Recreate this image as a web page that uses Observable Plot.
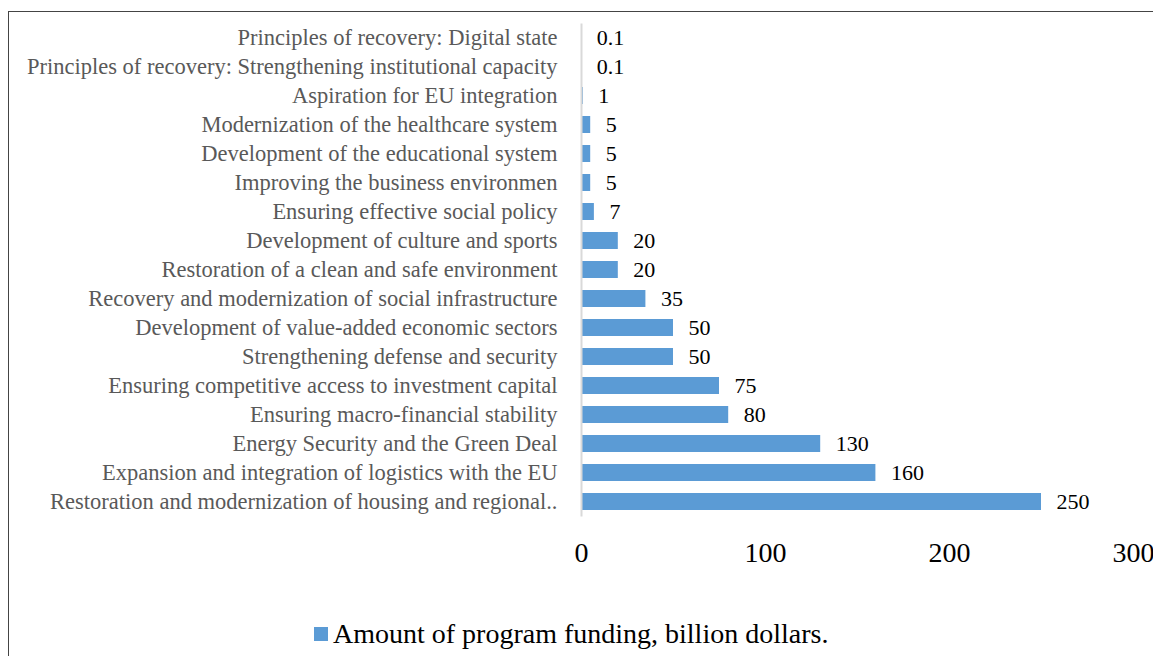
<!DOCTYPE html>
<html>
<head>
<meta charset="utf-8">
<script src="https://cdn.jsdelivr.net/npm/d3@7"></script>
<script src="https://cdn.jsdelivr.net/npm/@observablehq/plot@0.6"></script>
<style>
  html, body { margin: 0; padding: 0; background: #fff; overflow: hidden; width: 1153px; height: 656px; }
  #frame { position: absolute; left: 8px; top: 11px; width: 1200px; height: 700px; border: 1.5px solid #444; box-sizing: border-box; }
  #chart { position: absolute; left: 0; top: 0; }
  #legend { position: absolute; left: 314px; top: 617px; font-family: "Liberation Serif", "Times New Roman", serif; font-size: 28px; color: #000; display: flex; align-items: center; white-space: nowrap; line-height: 34px; }
  #legend .sw { width: 14px; height: 14px; background: #5b9bd5; margin-right: 5px; }
</style>
</head>
<body>
<div id="frame"></div>
<div id="chart"></div>
<div id="legend"><span class="sw"></span><span>Amount of program funding, billion dollars.</span></div>
<script>
const categories = [
  "Principles of recovery: Digital state",
  "Principles of recovery: Strengthening institutional capacity",
  "Aspiration for EU integration",
  "Modernization of the healthcare system",
  "Development of the educational system",
  "Improving the business environmen",
  "Ensuring effective social policy",
  "Development of culture and sports",
  "Restoration of a clean and safe environment",
  "Recovery and modernization of social infrastructure",
  "Development of value-added economic sectors",
  "Strengthening defense and security",
  "Ensuring competitive access to investment capital",
  "Ensuring macro-financial stability",
  "Energy Security and the Green Deal",
  "Expansion and integration of logistics with the EU",
  "Restoration and modernization of housing and regional.."
];
const values = [0.1, 0.1, 1, 5, 5, 5, 7, 20, 20, 35, 50, 50, 75, 80, 130, 160, 250];
const valueLabels = ["0.1", "0.1", "1", "5", "5", "5", "7", "20", "20", "35", "50", "50", "75", "80", "130", "160", "250"];
const xTicks = [0, 100, 200, 300];

const data = categories.map((c, i) => ({category: c, value: values[i], label: valueLabels[i]}));
const font = '"Liberation Serif", "Times New Roman", serif';

const chart = Plot.plot({
  width: 1153,
  height: 600,
  marginLeft: 581,
  marginRight: 20,
  marginTop: 23.5,
  marginBottom: 83.5,
  style: {fontFamily: font, background: "transparent", overflow: "visible"},
  x: {domain: [0, 300], ticks: xTicks},
  y: {domain: categories, paddingInner: 0.41, paddingOuter: 0.205},
  marks: [
    Plot.barX(data, {x: "value", y: "category", fill: "#5b9bd5"}),
    Plot.ruleX([0], {stroke: "#d9d9d9", strokeWidth: 2}),
    Plot.text(data, {x: "value", y: "category", text: "label", dx: 15, textAnchor: "start", fontSize: 22, fill: "#000"}),
    Plot.axisX({ticks: xTicks, tickSize: 0, tickPadding: 25, fontSize: 28, fill: "#000", label: null}),
    Plot.axisY({tickSize: 0, tickPadding: 24, fontSize: 22.5, fill: "#595959", label: null})
  ]
});
document.getElementById("chart").appendChild(chart);
</script>
</body>
</html>
